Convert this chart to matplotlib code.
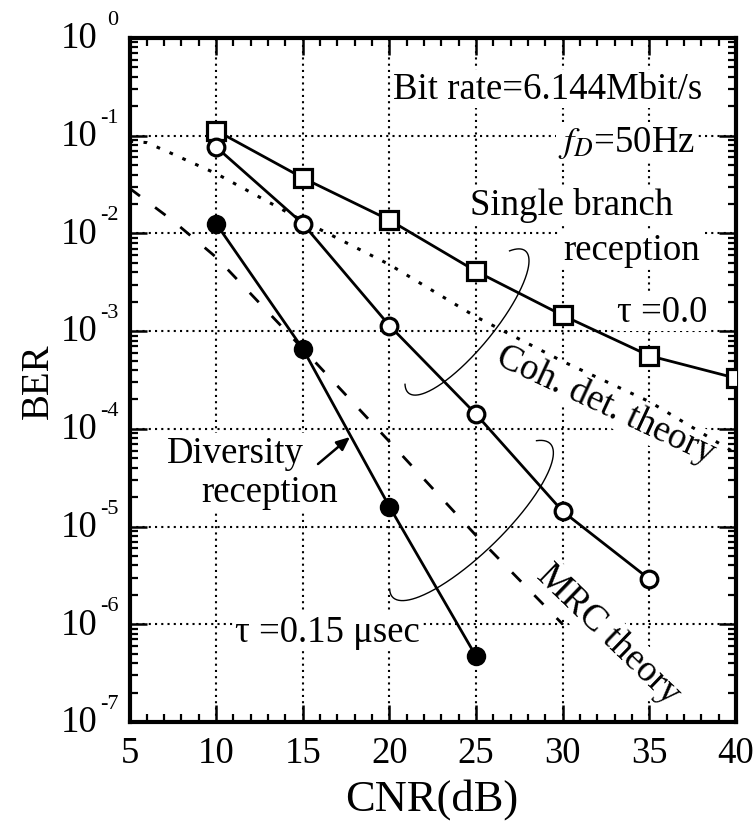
import numpy as np
import matplotlib
matplotlib.use("Agg")
import matplotlib.pyplot as plt
import matplotlib.transforms as mtransforms
from matplotlib.ticker import LogLocator, FixedLocator, MultipleLocator, FuncFormatter, NullFormatter

plt.rcParams['font.family'] = ['Liberation Serif', 'DejaVu Serif']
plt.rcParams['mathtext.fontset'] = 'stix'

# ---- data ----
cnr_single = [10, 15, 20, 25, 30, 35, 40]
ber_single = [0.113, 0.037, 0.0137, 0.0041, 0.00145, 5.6e-4, 3.3e-4]

cnr_open = [10, 15, 20, 25, 30, 35]
ber_open = [0.0766, 0.0126, 0.00114, 1.41e-4, 1.43e-5, 2.9e-6]

cnr_filled = [10, 15, 20, 25]
ber_filled = [0.0126, 6.6e-4, 1.6e-5, 4.7e-7]

cnr_coh = [5, 6, 7.5, 8.5, 10, 15, 20, 25, 30, 35, 40]
ber_coh = [0.088, 0.085, 0.065, 0.054, 0.041, 0.0135, 0.0048, 0.0014, 4.9e-4, 1.9e-4, 5.6e-5]

cnr_mrc = [5, 7.5, 10, 15, 20, 25, 30]
ber_mrc = [0.029, 0.0135, 0.0057, 6.6e-4, 7.4e-5, 8.1e-6, 1.0e-6]

x_ticks = [5, 10, 15, 20, 25, 30, 35, 40]
y_exponents = [0, -1, -2, -3, -4, -5, -6, -7]

W, H = 753, 828
fig = plt.figure(figsize=(W / 100, H / 100), dpi=100)
L, R, T, B = 129.5, 736, 39, 723
ax = fig.add_axes([L / W, 1 - B / H, (R - L) / W, (B - T) / H])

ax.set_yscale('log')
ax.set_xlim(5, 40)
ax.set_ylim(1e-7, 1)

# grid (dotted)
for xv in x_ticks[1:-1]:
    ax.axvline(xv, color='k', lw=1.5, ls=(0, (1, 2)), zorder=1)
for e in y_exponents[1:-1]:
    ax.axhline(10.0 ** e, color='k', lw=1.5, ls=(0, (1, 2)), zorder=1)

# curves
ax.plot(cnr_coh, ber_coh, color='k', lw=2.2, ls=(0, (1.2, 3.4)), zorder=4)
ax.plot(cnr_mrc, ber_mrc, color='k', lw=2.0, ls=(0, (4.7, 6.8)), zorder=4)
ax.plot(cnr_single, ber_single, color='k', lw=2.0, marker='s', ms=13,
        mfc='white', mec='k', mew=2.3, zorder=5)
ax.plot(cnr_open, ber_open, color='k', lw=2.0, marker='o', ms=12,
        mfc='white', mec='k', mew=2.3, zorder=5)
ax.plot(cnr_filled, ber_filled, color='k', lw=2.0, marker='o', ms=12.5,
        mfc='k', mec='k', mew=1.5, zorder=5)

# ticks
ax.xaxis.set_major_locator(FixedLocator(x_ticks))
ax.xaxis.set_minor_locator(MultipleLocator(1))
ax.xaxis.set_minor_formatter(NullFormatter())
ax.yaxis.set_major_locator(FixedLocator([10.0 ** e for e in y_exponents]))
ax.yaxis.set_minor_locator(LogLocator(base=10, subs=np.arange(2, 10), numticks=20))
ax.yaxis.set_minor_formatter(NullFormatter())
ax.xaxis.set_major_formatter(FuncFormatter(lambda v, p: '%d' % v))
ax.tick_params(which='both', direction='in', top=True, right=True, colors='k')
ax.tick_params(which='major', length=12, width=1.8, labelsize=26.5)
ax.tick_params(which='minor', length=5.5, width=1.6)
ax.tick_params(axis='x', which='major', pad=10)
ax.tick_params(axis='y', which='both', labelleft=False)
for s in ax.spines.values():
    s.set_linewidth(3)

# y tick labels: "10" with raised exponent
trans_lbl = mtransforms.blended_transform_factory(fig.transFigure, ax.transData)
off_exp = mtransforms.ScaledTranslation(0, 14 / 100, fig.dpi_scale_trans)
for e in y_exponents:
    ax.text(97 / W, 10.0 ** e, '10', ha='right', va='center', fontsize=26.5,
            transform=trans_lbl, clip_on=False)
    ax.text((107 if e == 0 else 100) / W, 10.0 ** e, '%d' % e if e else '0',
            ha='left', va='baseline', fontsize=16,
            transform=trans_lbl + off_exp, clip_on=False)

# texts
bb = dict(facecolor='white', edgecolor='none', pad=1.5)
fs = 26.5
def fx(px):
    return (px - L) / (R - L)
def fy(py):
    return (B - py) / (B - T)

ax.text(fx(547.5), fy(90), 'Bit rate=6.144Mbit/s', ha='center', va='center',
        fontsize=fs, transform=ax.transAxes, bbox=bb, zorder=3)
ax.text(fx(695), fy(152), r'$f_D$=50Hz', ha='right', va='baseline',
        fontsize=fs, transform=ax.transAxes, bbox=bb, zorder=3)
ax.text(fx(572), fy(215), 'Single branch', ha='center', va='baseline',
        fontsize=fs, transform=ax.transAxes, bbox=bb, zorder=3)
ax.text(fx(631.5), fy(260), 'reception', ha='center', va='baseline',
        fontsize=fs, transform=ax.transAxes, bbox=bb, zorder=3)
ax.text(fx(662), fy(322), 'τ =0.0', ha='center', va='baseline',
        fontsize=fs, transform=ax.transAxes, bbox=bb, zorder=3)
ax.text(fx(606), fy(405), 'Coh. det. theory', ha='center', va='center',
        rotation=-25, rotation_mode='anchor', fontsize=fs,
        transform=ax.transAxes, bbox=bb, zorder=3)
ax.text(fx(608), fy(635), 'MRC theory', ha='center', va='center',
        rotation=-44, rotation_mode='anchor', fontsize=fs,
        transform=ax.transAxes, bbox=bb, zorder=3)
ax.text(fx(235.5), fy(463), 'Diversity', ha='center', va='baseline',
        fontsize=fs, transform=ax.transAxes, bbox=bb, zorder=3)
ax.text(fx(270), fy(502), 'reception', ha='center', va='baseline',
        fontsize=fs, transform=ax.transAxes, bbox=bb, zorder=3)
ax.text(fx(327.5), fy(642), 'τ =0.15 μsec', ha='center', va='baseline',
        fontsize=fs, transform=ax.transAxes, bbox=bb, zorder=3)

# arrow
ax.annotate('', xy=(fx(350), fy(438)), xytext=(fx(318), fy(465)),
            xycoords='axes fraction', textcoords='axes fraction',
            arrowprops=dict(arrowstyle='-|>,head_length=0.8,head_width=0.35',
                            color='k', lw=1.8, shrinkA=0, shrinkB=0), zorder=6)

# ellipse-shaped annotation arcs (pixel geometry)
def arc(cx, cy, a, b, ux, uy, t0, t1):
    n = np.hypot(ux, uy)
    ux, uy = ux / n, uy / n
    vx, vy = -uy, ux
    if vy < 0:
        vx, vy = -vx, -vy
    t = np.linspace(t0, t1, 200)
    px = cx + a * np.cos(t) * ux + b * np.sin(t) * vx
    py = cy + a * np.cos(t) * uy + b * np.sin(t) * vy
    ax.plot(fx(px), fy(py), color='k', lw=1.0, transform=ax.transAxes,
            zorder=6, clip_on=False)

arc(467, 323, 92, 27, 115, -140, -0.15 * np.pi, 1.1 * np.pi)
arc(471.5, 521.5, 110, 32, 157, -153, -0.12 * np.pi, 1.08 * np.pi)

fig.text(38 / W, 1 - 381 / H, 'BER', rotation=90, ha='center', va='center', fontsize=28)
fig.text(432 / W, 1 - 800 / H, 'CNR(dB)', ha='center', va='center', fontsize=32)

fig.savefig('out.png', dpi=100)
